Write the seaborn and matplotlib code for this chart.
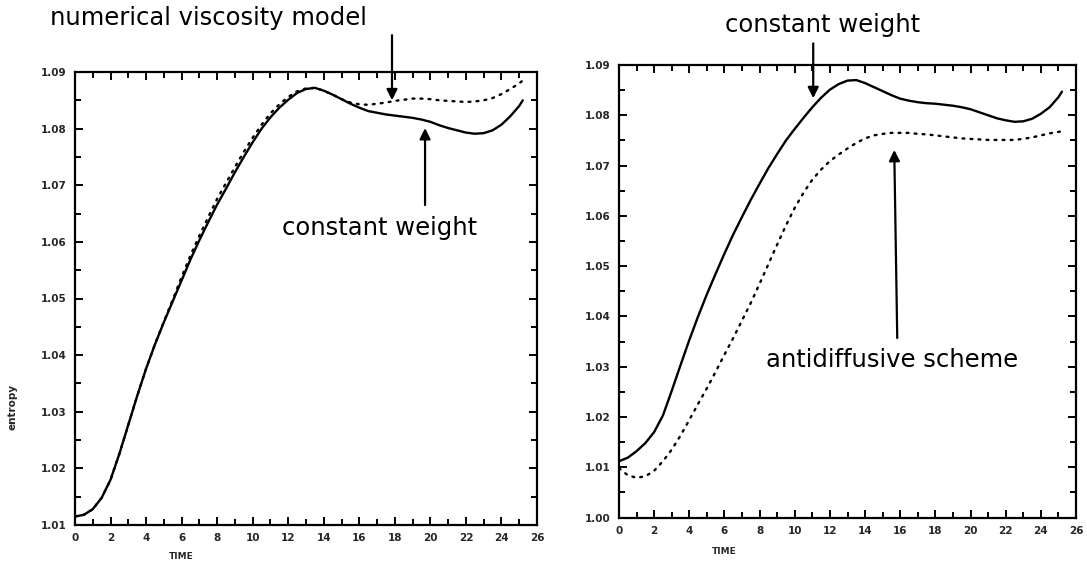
import numpy as np
import pandas as pd
import matplotlib
matplotlib.use("Agg")
import matplotlib.pyplot as plt
from matplotlib.ticker import MultipleLocator, FormatStrFormatter
import seaborn as sns

# ---- data ----
time = [0, 0.5, 1, 1.5, 2, 2.5, 3, 3.5, 4, 4.5, 5, 5.5, 6, 6.5, 7, 7.5, 8, 8.5,
        9, 9.5, 10, 10.5, 11, 11.5, 12, 12.5, 13, 13.5, 14, 14.5, 15, 15.5, 16,
        16.5, 17, 17.5, 18, 18.5, 19, 19.5, 20, 20.5, 21, 21.5, 22, 22.5, 23,
        23.5, 24, 24.5, 25, 25.2]

left_constant_weight = [
    1.0115, 1.0118, 1.0128, 1.0148, 1.0180, 1.0226, 1.0277, 1.0328, 1.0376,
    1.0419, 1.0458, 1.0495, 1.0532, 1.0569, 1.0603, 1.0635, 1.0666, 1.0694,
    1.0723, 1.0750, 1.0776, 1.0800, 1.0820, 1.0837, 1.0851, 1.0863, 1.0870,
    1.0872, 1.0867, 1.0860, 1.0852, 1.0844, 1.0837, 1.0831, 1.0828, 1.0825,
    1.0823, 1.0821, 1.0819, 1.0816, 1.0812, 1.0806, 1.0801, 1.0797, 1.0793,
    1.0791, 1.0792, 1.0797, 1.0807, 1.0822, 1.0840, 1.0850]

left_numerical_viscosity = [
    1.0115, 1.0118, 1.0128, 1.0148, 1.0180, 1.0226, 1.0277, 1.0328, 1.0376,
    1.0419, 1.0459, 1.0498, 1.0538, 1.0576, 1.0611, 1.0644, 1.0676, 1.0704,
    1.0732, 1.0759, 1.0784, 1.0807, 1.0827, 1.0843, 1.0856, 1.0866, 1.0871,
    1.0872, 1.0867, 1.0860, 1.0852, 1.0846, 1.0843, 1.0842, 1.0844, 1.0846,
    1.0849, 1.0851, 1.0853, 1.0853, 1.0852, 1.0850, 1.0849, 1.0848, 1.0847,
    1.0848, 1.0850, 1.0854, 1.0861, 1.0870, 1.0880, 1.0885]

right_constant_weight = [
    1.0112, 1.0119, 1.0132, 1.0148, 1.0170, 1.0203, 1.0252, 1.0303, 1.0353,
    1.0400, 1.0444, 1.0485, 1.0525, 1.0563, 1.0598, 1.0632, 1.0664, 1.0695,
    1.0723, 1.0750, 1.0773, 1.0795, 1.0816, 1.0835, 1.0851, 1.0862, 1.0869,
    1.0870, 1.0864, 1.0856, 1.0848, 1.0840, 1.0833, 1.0829, 1.0826, 1.0824,
    1.0823, 1.0821, 1.0819, 1.0816, 1.0812, 1.0806, 1.0800, 1.0794, 1.0790,
    1.0787, 1.0788, 1.0793, 1.0803, 1.0816, 1.0836, 1.0847]

right_antidiffusive = [
    1.0098, 1.0084, 1.0079, 1.0082, 1.0093, 1.0112, 1.0135, 1.0163, 1.0194,
    1.0226, 1.0257, 1.0290, 1.0324, 1.0357, 1.0392, 1.0427, 1.0465, 1.0504,
    1.0543, 1.0581, 1.0616, 1.0646, 1.0672, 1.0692, 1.0709, 1.0722, 1.0734,
    1.0745, 1.0754, 1.0760, 1.0763, 1.0765, 1.0765, 1.0765, 1.0763, 1.0762,
    1.0760, 1.0758, 1.0756, 1.0754, 1.0753, 1.0752, 1.0751, 1.0751, 1.0751,
    1.0751, 1.0753, 1.0756, 1.0760, 1.0764, 1.0767, 1.0768]

x_ticks = [0, 2, 4, 6, 8, 10, 12, 14, 16, 18, 20, 22, 24, 26]

# ---- figure ----
sns.set_theme(style="ticks")
plt.rcParams["font.family"] = ["DejaVu Sans"]

W, H = 1087, 562
fig = plt.figure(figsize=(W / 100, H / 100), dpi=100)

def px_axes(l, r, t, b):
    return [l / W, 1 - b / H, (r - l) / W, (b - t) / H]

axL = fig.add_axes(px_axes(75, 537, 72, 525))
axR = fig.add_axes(px_axes(619, 1076, 65, 517.5))

dot_style = (0, (0.8, 2.6))

dfL = pd.DataFrame({"time": time, "cw": left_constant_weight,
                    "nv": left_numerical_viscosity})
dfR = pd.DataFrame({"time": time, "cw": right_constant_weight,
                    "ad": right_antidiffusive})

sns.lineplot(data=dfL, x="time", y="cw", ax=axL, color="black", lw=1.7)
sns.lineplot(data=dfL, x="time", y="nv", ax=axL, color="black", lw=1.7,
             linestyle=dot_style, dash_capstyle="round")
sns.lineplot(data=dfR, x="time", y="cw", ax=axR, color="black", lw=1.7)
sns.lineplot(data=dfR, x="time", y="ad", ax=axR, color="black", lw=1.7,
             linestyle=dot_style, dash_capstyle="round")

for ax, ylo in ((axL, 1.01), (axR, 1.00)):
    ax.set_xlim(0, 26)
    ax.set_ylim(ylo, 1.09)
    ax.set_xticks(x_ticks)
    ax.xaxis.set_minor_locator(MultipleLocator(1))
    ax.yaxis.set_major_locator(MultipleLocator(0.01))
    ax.yaxis.set_minor_locator(MultipleLocator(0.005))
    ax.yaxis.set_major_formatter(FormatStrFormatter("%.2f"))
    ax.tick_params(which="both", direction="in", top=True, right=True,
                   color="black", width=1.4)
    ax.tick_params(which="major", length=6, pad=6, labelsize=7.5)
    ax.tick_params(which="minor", length=4)
    for lab in ax.get_xticklabels() + ax.get_yticklabels():
        lab.set_fontweight("bold")
    for s in ax.spines.values():
        s.set_linewidth(1.6)
        s.set_color("black")
    ax.set_ylabel("")
    ax.set_xlabel("TIME", fontsize=6.5, fontweight="bold")

axL.xaxis.set_label_coords(6 / 26, -0.06)
axR.xaxis.set_label_coords(6 / 26, -0.065)
axL.set_ylabel("entropy", fontsize=7.5, fontweight="bold")
axL.yaxis.set_label_coords(-0.125, 0.26)

# ---- annotations ----
arrow = dict(arrowstyle="-|>", color="black", lw=1.6, mutation_scale=16,
             shrinkA=0, shrinkB=0)
ann_font = dict(fontsize=17.5, color="black", ha="center", va="center")

fig.text(208 / W, 1 - 18 / H, "numerical viscosity model", **ann_font)
axL.annotate("", xy=(17.84, 1.0850), xytext=(17.84, 1.0965),
             arrowprops=arrow, annotation_clip=False)

fig.text(380 / W, 1 - 228 / H, "constant weight", **ann_font)
axL.annotate("", xy=(19.70, 1.0801), xytext=(19.70, 1.0665),
             arrowprops=arrow, annotation_clip=False)

fig.text(823 / W, 1 - 25 / H, "constant weight", **ann_font)
axR.annotate("", xy=(11.05, 1.0834), xytext=(11.05, 1.0943),
             arrowprops=arrow, annotation_clip=False)

fig.text(892 / W, 1 - 360 / H, "antidiffusive scheme", **ann_font)
axR.annotate("", xy=(15.66, 1.0731), xytext=(15.83, 1.0357),
             arrowprops=arrow, annotation_clip=False)

fig.savefig("out.png", dpi=100)
